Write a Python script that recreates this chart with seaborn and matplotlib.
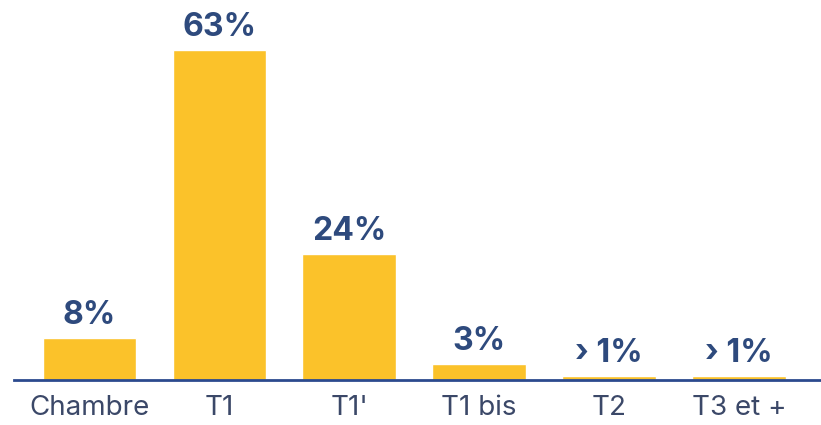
import matplotlib
matplotlib.use("Agg")
import matplotlib.pyplot as plt
import seaborn as sns
import pandas as pd

# Répartition des logements par typologie
categories = ["Chambre", "T1", "T1'", "T1 bis", "T2", "T3 et +"]
shares = [8, 63, 24, 3, 0.8, 0.8]
value_labels = ["8%", "63%", "24%", "3%", "› 1%", "› 1%"]

BAR = "#FBC22A"
TEXT = "#2E4A7D"
TICK = "#3B4868"
AXIS = "#2B4A8E"

sns.set_theme(style="white")
plt.rcParams["font.family"] = ["Inter", "DejaVu Sans"]

df = pd.DataFrame({"categorie": categories, "part": shares})

fig = plt.figure(figsize=(8.21, 4.25), dpi=100)
ax = fig.add_axes([14 / 821, 45 / 425, 1 - 14 / 821, 380 / 425])

sns.barplot(data=df, x="categorie", y="part", color=BAR, saturation=1,
            width=0.72, ax=ax)

for patch, label in zip(ax.patches, value_labels):
    x = patch.get_x() + patch.get_width() / 2
    ax.annotate(label, (x, patch.get_height()), xytext=(0, 5),
                textcoords="offset points", ha="center", va="bottom",
                fontsize=23, fontweight="bold", color=TEXT)

ax.set_xlim(-0.58, 5.63)
ax.set_ylim(0, 72.5)
ax.set_xlabel("")
ax.set_ylabel("")
ax.set_yticks([])
ax.tick_params(axis="x", length=0, pad=11, labelsize=20, labelcolor=TICK)
for side in ["top", "right", "left"]:
    ax.spines[side].set_visible(False)
ax.spines["bottom"].set_color(AXIS)
ax.spines["bottom"].set_linewidth(2)

fig.savefig("out.png", dpi=100)
